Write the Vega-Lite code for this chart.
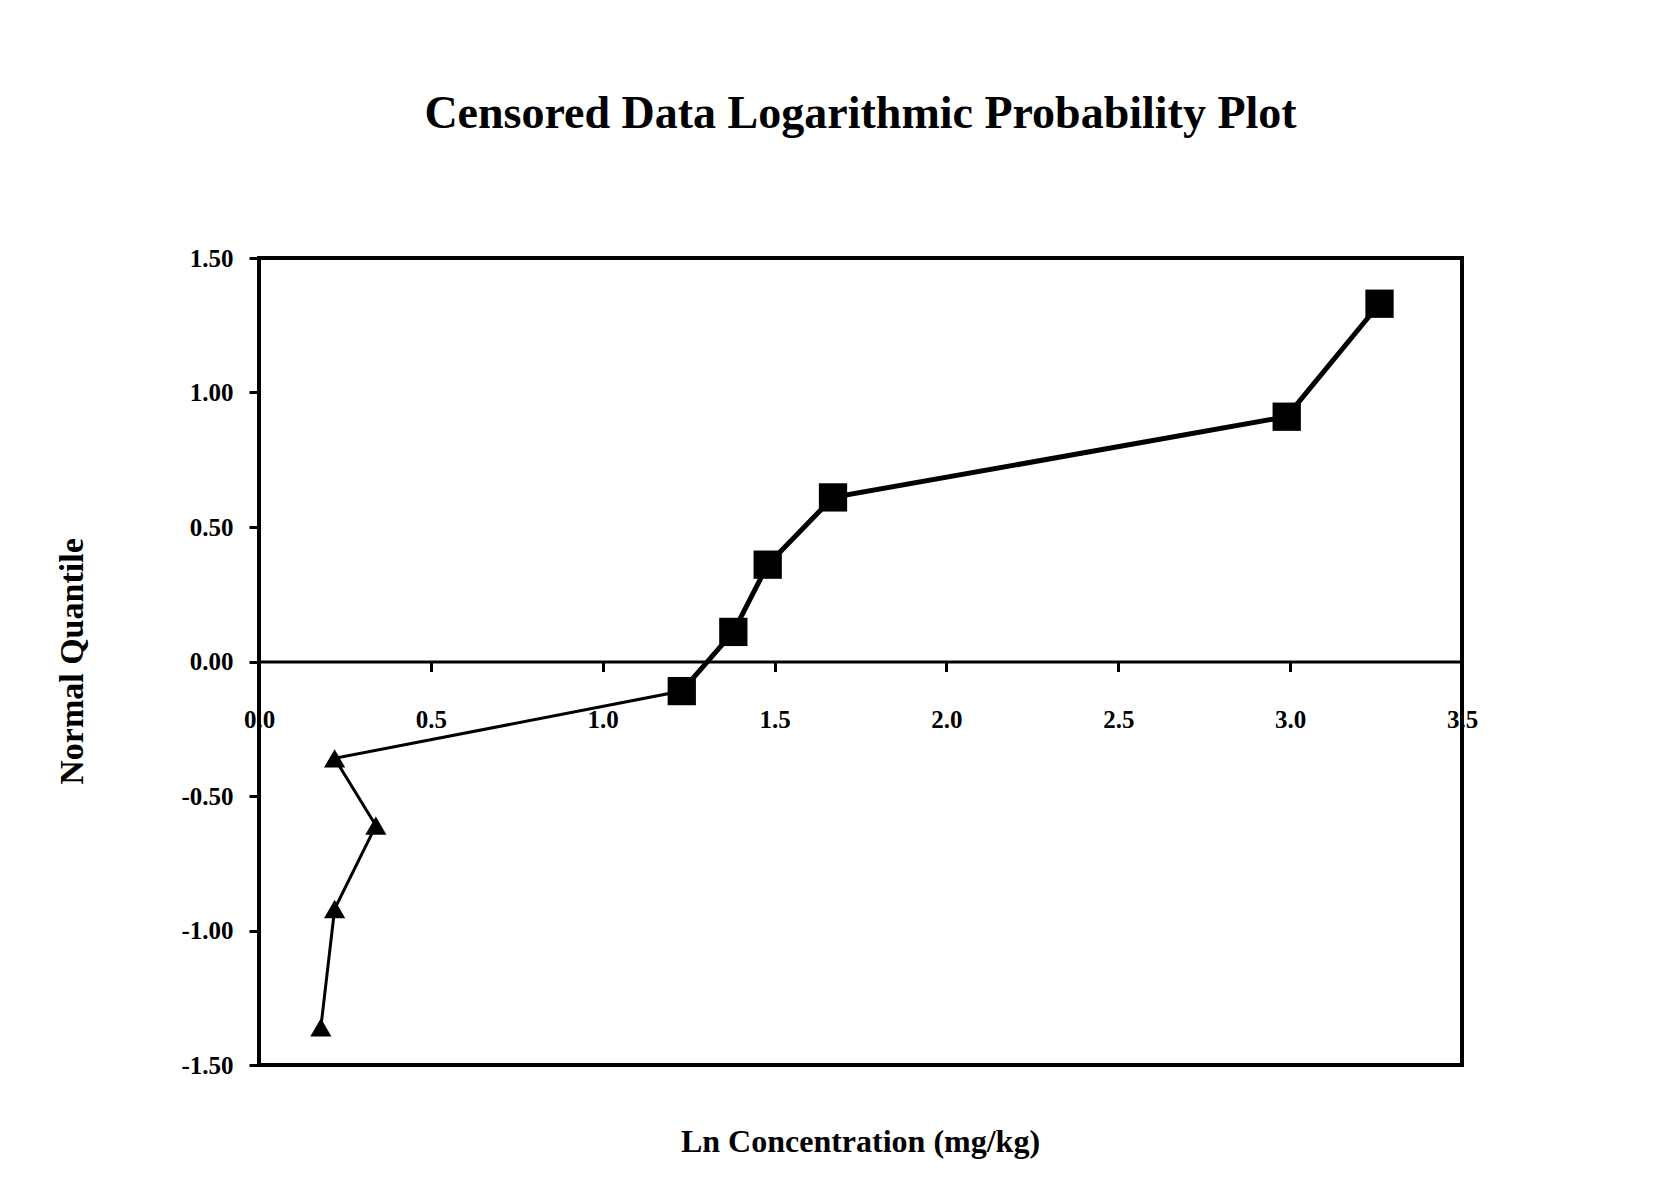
{
  "$schema": "https://vega.github.io/schema/vega-lite/v6.json",
  "autosize": {"type": "none"},
  "padding": {"left": 259, "top": 258, "right": 204, "bottom": 126},
  "width": 1203,
  "height": 807,
  "background": "white",
  "title": {
    "text": "Censored Data Logarithmic Probability Plot",
    "font": "Liberation Serif",
    "fontSize": 46,
    "fontWeight": "bold",
    "color": "black",
    "anchor": "middle",
    "offset": 108
  },
  "data": {
    "values": [
      {"order": 1, "group": "Censored", "x": 0.18, "y": -1.36},
      {"order": 2, "group": "Censored", "x": 0.22, "y": -0.92},
      {"order": 3, "group": "Censored", "x": 0.34, "y": -0.61},
      {"order": 4, "group": "Censored", "x": 0.22, "y": -0.36},
      {"order": 5, "group": "Detected", "x": 1.23, "y": -0.11},
      {"order": 6, "group": "Detected", "x": 1.38, "y": 0.11},
      {"order": 7, "group": "Detected", "x": 1.48, "y": 0.36},
      {"order": 8, "group": "Detected", "x": 1.67, "y": 0.61},
      {"order": 9, "group": "Detected", "x": 2.99, "y": 0.91},
      {"order": 10, "group": "Detected", "x": 3.26, "y": 1.33}
    ]
  },
  "encoding": {
    "x": {
      "field": "x", "type": "quantitative",
      "scale": {"domain": [0, 3.5], "nice": false, "zero": false},
      "axis": {
        "title": "Ln Concentration (mg/kg)",
        "values": [0, 0.5, 1, 1.5, 2, 2.5, 3, 3.5],
        "format": ".1f",
        "offset": -403.5,
        "grid": false,
        "labelFlush": false,
        "labelOverlap": false,
        "labelBound": false,
        "domainColor": "black", "domainWidth": 3,
        "tickColor": "black", "tickWidth": 3, "tickSize": 10,
        "labelFont": "Liberation Serif", "labelFontWeight": "bold", "labelFontSize": 25, "labelColor": "black",
        "labelPadding": 36,
        "titleFont": "Liberation Serif", "titleFontWeight": "bold", "titleFontSize": 32, "titleColor": "black",
        "titleX": 601, "titleY": 465
      }
    },
    "y": {
      "field": "y", "type": "quantitative",
      "scale": {"domain": [-1.5, 1.5], "nice": false, "zero": false},
      "axis": {
        "title": "Normal Quantile",
        "values": [-1.5, -1, -0.5, 0, 0.5, 1, 1.5],
        "labelExpr": "replace(format(datum.value, '.2f'), '\u2212', '-')",
        "grid": false,
        "labelFlush": false,
        "domainColor": "black", "domainWidth": 3,
        "tickColor": "black", "tickWidth": 3, "tickSize": 10,
        "labelFont": "Liberation Serif", "labelFontWeight": "bold", "labelFontSize": 25, "labelColor": "black",
        "labelPadding": 16,
        "titleFont": "Liberation Serif", "titleFontWeight": "bold", "titleFontSize": 34, "titleColor": "black",
        "titleX": -170, "titleY": 403
      }
    },
    "order": {"field": "order"}
  },
  "layer": [
    {"mark": {"type": "line", "color": "black", "strokeWidth": 3}},
    {
      "transform": [{"filter": "datum.group == 'Detected'"}],
      "mark": {"type": "line", "color": "black", "strokeWidth": 5}
    },
    {
      "mark": {"type": "point", "filled": true, "color": "black", "opacity": 1},
      "encoding": {
        "shape": {
          "field": "group", "type": "nominal",
          "scale": {"domain": ["Censored", "Detected"], "range": ["triangle-up", "square"]},
          "legend": null
        },
        "size": {
          "field": "group", "type": "nominal",
          "scale": {"domain": ["Censored", "Detected"], "range": [450, 800]},
          "legend": null
        }
      }
    }
  ],
  "config": {
    "view": {"stroke": "black", "strokeWidth": 4}
  }
}
